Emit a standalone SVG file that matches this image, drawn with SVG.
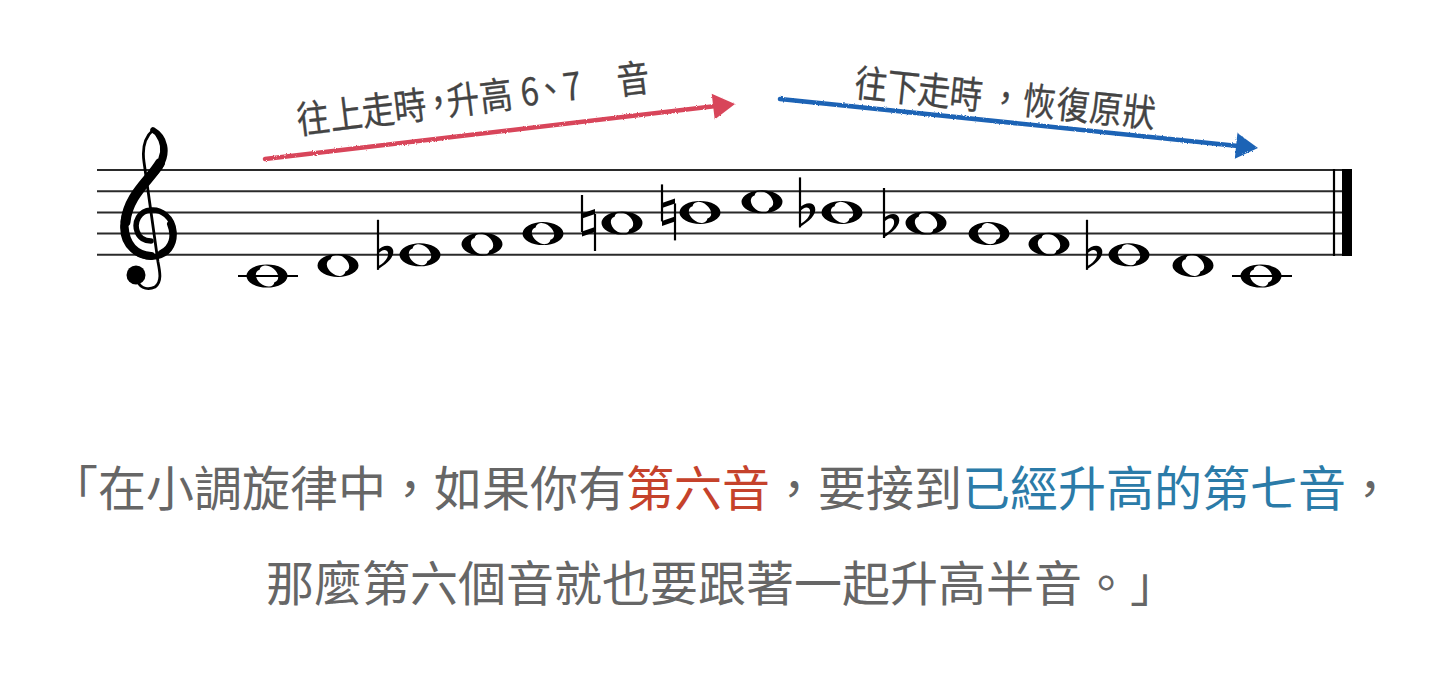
<svg xmlns="http://www.w3.org/2000/svg" xmlns:xlink="http://www.w3.org/1999/xlink" width="1442" height="689" viewBox="0 0 1442 689">
<style>
.staff{stroke:#2a2a2a;stroke-width:2;}
.lbl{font-family:"Noto Sans CJK TC","Noto Sans",sans-serif;font-size:38px;fill:#444;stroke:#444;stroke-width:0.3;}
.cap{font-family:"Noto Sans CJK TC","Noto Sans",sans-serif;font-size:48px;fill:#666;}
.red{fill:#c5422b;}
.blue{fill:#2b7ba8;}
</style>
<defs>
<filter id="crayon" x="-5%" y="-20%" width="110%" height="140%">
<feTurbulence type="fractalNoise" baseFrequency="0.9" numOctaves="2" result="n"/>
<feDisplacementMap in="SourceGraphic" in2="n" scale="2.5"/>
</filter>
<path id="whole" fill="#000" fill-rule="evenodd" d="M-20.5,0 A20.5,11.5 0 1,0 20.5,0 A20.5,11.5 0 1,0 -20.5,0 Z M7.4,6.2 A10.5,7 38 1,0 -7.4,-6.2 A10.5,7 38 1,0 7.4,6.2 Z"/>
<g id="flat">
<line x1="0" y1="-35" x2="0" y2="15" stroke="#000" stroke-width="2.2"/>
<path fill="#000" d="M-1,15 C9,9 17,2 15,-5 C13,-11 5,-10 -1,-4 L-1,0 C4,-6 9,-6 10,-2 C11,3 6,9 -1,12 Z"/>
</g>
<g id="natural">
<line x1="0" y1="-28" x2="0" y2="9" stroke="#000" stroke-width="2.2"/>
<line x1="13" y1="-9" x2="13" y2="28" stroke="#000" stroke-width="2.2"/>
<polygon fill="#000" points="0,-9.5 13,-14 13,-9 0,-4.5"/>
<polygon fill="#000" points="0,8.5 13,4 13,9 0,13.5"/>
</g>
</defs>
<rect width="1442" height="689" fill="#fff"/>

<g id="staff">
<line class="staff" x1="97" y1="170" x2="1350" y2="170"/>
<line class="staff" x1="97" y1="191.2" x2="1350" y2="191.2"/>
<line class="staff" x1="97" y1="212.4" x2="1350" y2="212.4"/>
<line class="staff" x1="97" y1="233.6" x2="1350" y2="233.6"/>
<line class="staff" x1="97" y1="254.8" x2="1350" y2="254.8"/>
<line x1="1334" y1="169" x2="1334" y2="256" stroke="#000" stroke-width="2.2"/>
<rect x="1342" y="169" width="10" height="87" fill="#000"/>
</g>

<g id="clef" fill="none" stroke="#000" stroke-linecap="round">
<path stroke-width="2.8" d="M153,130 C145,137 142,148 144,162 L158,262 C160,272 162,282 155,287 C149,290 141,289 138,282"/>
<path stroke-width="5.5" d="M153,130 C165,137 169,152 160,167 C151,181 124,196 123,226 C122,247 139,258 153,257 C168,256 175,245 174,232 C173,217 161,209 151,210 C139,211 134,222 137,231 C139,238 145,241 151,241"/>
<path stroke-width="10" d="M160,163 C150,180 128,195 125.5,222"/>
<path stroke-width="8" d="M124.5,226 C126,248 139,255 151,256"/>
<path stroke-width="6" d="M170,224 C175,236 172,248 161,253"/>
<path stroke-width="5" d="M158,135 C163,142 164,150 161,158"/>
<circle cx="136" cy="275" r="9.5" fill="#000" stroke="none"/>
</g>

<g id="notes">
<g id="n1"><line x1="238" y1="276" x2="298" y2="276" stroke="#000" stroke-width="2.2"/><use href="#whole" x="267" y="276"/></g>
<g id="n2"><use href="#whole" x="338" y="265.4"/></g>
<g id="n3"><use href="#flat" x="378" y="254.8"/><use href="#whole" x="420" y="254.8"/></g>
<g id="n4"><use href="#whole" x="482" y="244.2"/></g>
<g id="n5"><use href="#whole" x="543" y="233.6"/></g>
<g id="n6"><use href="#natural" x="582" y="223"/><use href="#whole" x="622" y="223"/></g>
<g id="n7"><use href="#natural" x="662" y="212.4"/><use href="#whole" x="700" y="212.4"/></g>
<g id="n8"><use href="#whole" x="762" y="201.8"/></g>
<g id="n9"><use href="#flat" x="800" y="212.4"/><use href="#whole" x="842" y="212.4"/></g>
<g id="n10"><use href="#flat" x="884" y="223"/><use href="#whole" x="926" y="223"/></g>
<g id="n11"><use href="#whole" x="989" y="233.6"/></g>
<g id="n12"><use href="#whole" x="1049" y="244.2"/></g>
<g id="n13"><use href="#flat" x="1087" y="254.8"/><use href="#whole" x="1129" y="254.8"/></g>
<g id="n14"><use href="#whole" x="1193" y="265.4"/></g>
<g id="n15"><line x1="1232" y1="276" x2="1292" y2="276" stroke="#000" stroke-width="2.2"/><use href="#whole" x="1261" y="276"/></g>
</g>

<g id="connectors" filter="url(#crayon)">
<g id="arrow-up">
<line x1="265" y1="159" x2="716" y2="106" stroke="#d8455a" stroke-width="4.5" stroke-linecap="round"/>
<polygon points="735,104 711.7,93.7 714.7,119.5" fill="#d8455a"/>
</g>
<g id="arrow-down">
<line x1="780" y1="99" x2="1238" y2="146" stroke="#1f63b5" stroke-width="4.5" stroke-linecap="round"/>
<polygon points="1258,148 1237.4,132.9 1234.8,158.7" fill="#1f63b5"/>
</g>
</g>

<g id="label-up" transform="translate(298.5,134) rotate(-7) scale(0.86,1)">
<text class="lbl" x="0 38.7 76.1 113.7 147 175.7 214.4 252 262 278 312 333 375" y="0">往上走時，升高 6、7 音</text>
</g>
<g id="label-down" transform="translate(853.5,96.2) rotate(6) scale(0.86,1)">
<text class="lbl" x="0 37.5 73.7 111 157 196.5 236.2 274.8 313.3" y="0">往下走時，恢復原狀</text>
</g>

<g id="caption">
<text class="cap" x="50" y="506">「在小調旋律中，如果你有<tspan class="red">第六音</tspan>，要接到<tspan class="blue">已經升高的第七音</tspan>，</text>
<text class="cap" x="266" y="601">那麼第六個音就也要跟著一起升高半音。」</text>
</g>
</svg>
